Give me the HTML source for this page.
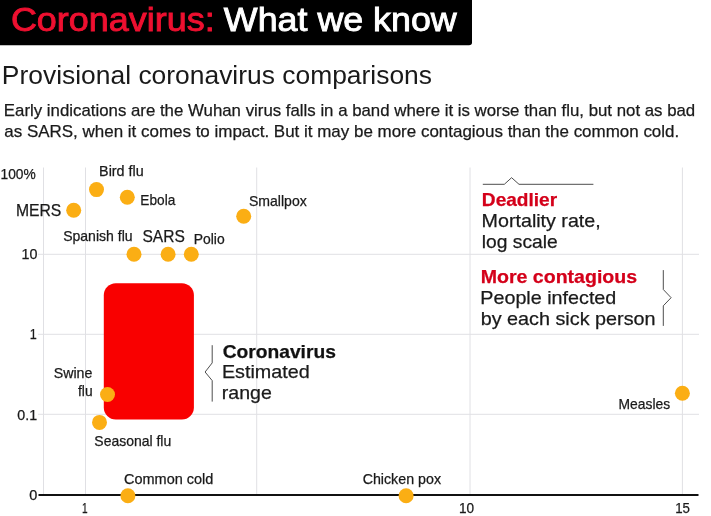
<!DOCTYPE html>
<html><head><meta charset="utf-8">
<style>
html,body{margin:0;padding:0;background:#fff;}
body{width:711px;height:516px;overflow:hidden;position:relative;font-family:"Liberation Sans",sans-serif;}
svg{position:absolute;left:0;top:0;display:block}
text{font-family:"Liberation Sans",sans-serif;fill:#1a1a1a;stroke:#1a1a1a;stroke-width:0.25px}
.r{fill:#d4001a;stroke:#d4001a;font-weight:bold}
.b{fill:#111;font-weight:bold}
.sub{stroke-width:0}
.tr{fill:#ee1030;stroke:#ee1030;stroke-width:0.9px}
.tw{fill:#fff;stroke:#fff;stroke-width:0.9px}
.k,.ktr,.ktw,.kr,.kb,.ksub{fill:#000;stroke:#000}
.ksub{stroke-width:0}
.ktr,.ktw{stroke-width:0.9px}
.kr,.kb{font-weight:bold}
</style></head><body>
<svg width="711" height="516" viewBox="0 0 711 516">
<rect width="711" height="516" fill="#fff"/>
<path d="M0 0H472V42.500Q472 45.300 469 45.300H0Z" fill="#000"/>
<g stroke="#e0e0e4" stroke-width="1" fill="none">
<path d="M38 254.300H699M38 334.300H699M38 414.300H699"/>
<path d="M43.500 167.500V495M85.500 167.500V495M256.700 167.500V495M470 167.500V495M682.400 167.500V495"/>
</g>
<path d="M38.500 495H698.500" stroke="#111" stroke-width="2"/>
<rect x="103.800" y="283.200" width="90.100" height="136.300" rx="12" fill="#f90000"/>
<g fill="#fbae14">
<circle cx="96.5" cy="189.6" r="7.5"/>
<circle cx="127.3" cy="197.2" r="7.5"/>
<circle cx="73.7" cy="210.3" r="7.5"/>
<circle cx="243.7" cy="216.2" r="7.5"/>
<circle cx="134" cy="254.2" r="7.5"/>
<circle cx="168.1" cy="254.2" r="7.5"/>
<circle cx="191.3" cy="254.2" r="7.5"/>
<circle cx="107.5" cy="394.5" r="7.5"/>
<circle cx="99.5" cy="422.4" r="7.5"/>
<circle cx="127.9" cy="495.7" r="7.5"/>
<circle cx="406.1" cy="495.7" r="7.5"/>
<circle cx="682.4" cy="393.2" r="7.5"/>
</g>
<text x="10.91" y="31.00" font-size="34" textLength="203.79" lengthAdjust="spacingAndGlyphs" class="tr">Coronavirus:</text>
<text x="223.89" y="31.00" font-size="34" textLength="232.85" lengthAdjust="spacingAndGlyphs" class="tw">What we know</text>
<text x="1.87" y="84.10" font-size="25.5" textLength="430.17" lengthAdjust="spacingAndGlyphs" class="sub">Provisional coronavirus comparisons</text>
<text x="3.86" y="115.80" font-size="17" textLength="691.37" lengthAdjust="spacingAndGlyphs">Early indications are the Wuhan virus falls in a band where it is worse than flu, but not as bad</text>
<text x="4.30" y="137.00" font-size="17" textLength="674.92" lengthAdjust="spacingAndGlyphs">as SARS, when it comes to impact. But it may be more contagious than the common cold.</text>
<text x="0.48" y="179.30" font-size="14.2" textLength="35.25" lengthAdjust="spacingAndGlyphs">100%</text>
<text x="21.47" y="259.30" font-size="14.2" textLength="15.93" lengthAdjust="spacingAndGlyphs">10</text>
<text x="29.86" y="339.30" font-size="14.2" textLength="7.00" lengthAdjust="spacingAndGlyphs">1</text>
<text x="17.30" y="419.70" font-size="14.2" textLength="19.81" lengthAdjust="spacingAndGlyphs">0.1</text>
<text x="29.17" y="500.20" font-size="14.2" textLength="8.05" lengthAdjust="spacingAndGlyphs">0</text>
<text x="82.07" y="513.00" font-size="14.2" textLength="5.60" lengthAdjust="spacingAndGlyphs">1</text>
<text x="458.90" y="513.00" font-size="14.2" textLength="15.10" lengthAdjust="spacingAndGlyphs">10</text>
<text x="675.20" y="513.00" font-size="14.2" textLength="14.72" lengthAdjust="spacingAndGlyphs">15</text>
<text x="99.10" y="175.70" font-size="14.2" textLength="44.63" lengthAdjust="spacingAndGlyphs">Bird flu</text>
<text x="140.37" y="204.50" font-size="14.2" textLength="34.95" lengthAdjust="spacingAndGlyphs">Ebola</text>
<text x="248.99" y="205.60" font-size="14.2" textLength="57.79" lengthAdjust="spacingAndGlyphs">Smallpox</text>
<text x="63.13" y="241.00" font-size="14.2" textLength="69.52" lengthAdjust="spacingAndGlyphs">Spanish flu</text>
<text x="193.72" y="243.80" font-size="14.2" textLength="30.91" lengthAdjust="spacingAndGlyphs">Polio</text>
<text x="53.74" y="378.40" font-size="14.2" textLength="38.69" lengthAdjust="spacingAndGlyphs">Swine</text>
<text x="78.00" y="395.80" font-size="14.2" textLength="14.57" lengthAdjust="spacingAndGlyphs">flu</text>
<text x="94.33" y="445.80" font-size="14.2" textLength="76.93" lengthAdjust="spacingAndGlyphs">Seasonal flu</text>
<text x="123.98" y="484.30" font-size="14.2" textLength="89.41" lengthAdjust="spacingAndGlyphs">Common cold</text>
<text x="362.65" y="483.80" font-size="14.2" textLength="78.36" lengthAdjust="spacingAndGlyphs">Chicken pox</text>
<text x="618.51" y="408.80" font-size="14.2" textLength="51.60" lengthAdjust="spacingAndGlyphs">Measles</text>
<text x="15.89" y="216.20" font-size="16.2" textLength="45.45" lengthAdjust="spacingAndGlyphs">MERS</text>
<text x="142.48" y="242.40" font-size="16.2" textLength="42.43" lengthAdjust="spacingAndGlyphs">SARS</text>
<text x="481.89" y="205.70" font-size="18.5" textLength="75.25" lengthAdjust="spacingAndGlyphs" class="r">Deadlier</text>
<text x="481.61" y="227.30" font-size="18.5" textLength="119.12" lengthAdjust="spacingAndGlyphs">Mortality rate,</text>
<text x="481.85" y="248.10" font-size="18.5" textLength="75.88" lengthAdjust="spacingAndGlyphs">log scale</text>
<text x="480.70" y="282.50" font-size="18.5" textLength="156.46" lengthAdjust="spacingAndGlyphs" class="r">More contagious</text>
<text x="480.29" y="304.30" font-size="18.5" textLength="136.04" lengthAdjust="spacingAndGlyphs">People infected</text>
<text x="480.68" y="325.20" font-size="18.5" textLength="174.87" lengthAdjust="spacingAndGlyphs">by each sick person</text>
<text x="222.67" y="358.10" font-size="18.5" textLength="113.19" lengthAdjust="spacingAndGlyphs" class="b">Coronavirus</text>
<text x="221.93" y="378.30" font-size="18.5" textLength="87.84" lengthAdjust="spacingAndGlyphs">Estimated</text>
<text x="221.82" y="399.40" font-size="18.5" textLength="49.99" lengthAdjust="spacingAndGlyphs">range</text>
<g stroke="#3a3a3a" stroke-width="0.9" fill="none">
<path d="M482.800 184.300H504.300L511.600 177.700L519 184.300H593.400"/>
<path d="M663.300 270.100V289.500L671.100 297.700L663.300 305.800V325.900"/>
<path d="M212.200 345.200V362.900L205.100 372L212.200 380.600V401.600"/>
</g>
</svg>
</body></html>
